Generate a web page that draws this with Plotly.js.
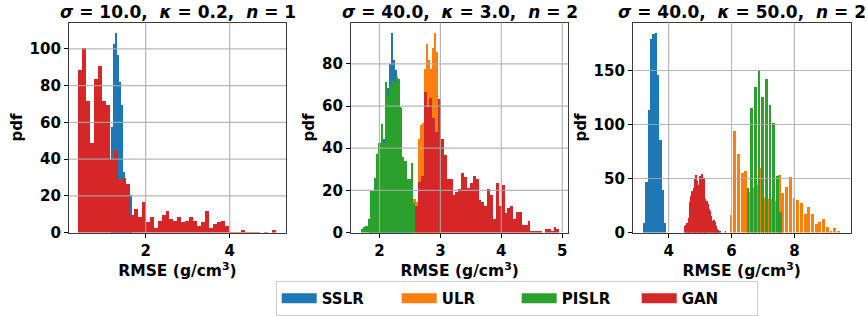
<!DOCTYPE html>
<html>
<head>
<meta charset="utf-8">
<script src="https://cdn.plot.ly/plotly-3.0.1.min.js"></script>
<style>html,body{margin:0;padding:0;background:#fff;}</style>
</head>
<body>
<div id="chart" style="width:867px;height:316px;"></div>
<script>
// ---------------- data ----------------
const seriesNames = ['SSLR', 'ULR', 'PISLR', 'GAN'];
const panelTitles = [
  '<i>σ</i> = 10.0,  <i>κ</i> = 0.2,  <i>n</i> = 1',
  '<i>σ</i> = 40.0,  <i>κ</i> = 3.0,  <i>n</i> = 2',
  '<i>σ</i> = 40.0,  <i>κ</i> = 50.0,  <i>n</i> = 2'
];
const xTitle = 'RMSE (g/cm<sup>3</sup>)';
const yTitle = 'pdf';

// Panel 1 (sigma=10, kappa=0.2, n=1): histogram bins (left edge of first bin, bin width, pdf values)
const p1_SSLR_start = 1.163, p1_SSLR_bin = 0.05;
const p1_SSLR = [57.7, 102.7, 108.8, 97.1, 82, 69.7, 33.2, 25, 24, 20.6];
const p1_GAN_start = 0.40, p1_GAN_bin = 0.0942;
const p1_GAN = [88.8, 100.7, 72.1, 48.8, 84, 91, 72, 69.9, 40.5, 44.9,
                29, 29.9, 26.7, 10, 13.1, 8.7, 16.9, 6, 8.7, 2.9,
                6.5, 9.8, 12, 7.8, 6.7, 8.7, 6.2, 6.5, 8.7, 6.5,
                3.8, 6, 12, 2.9, 5.1, 6.2, 6.5, 3.8, 0.5, 0.5,
                0.5, 1.6, 0.5, 0.5, 0.5, 0.5, 0, 0.5, 0, 1.6];

// Panel 2 (sigma=40, kappa=3, n=2)
const p2_SSLR_start = 1.82, p2_SSLR_bin = 0.033;
const p2_SSLR = [3.8, 5, 8, 12, 17.9, 25, 35, 44.8, 44, 68.7,
                 80, 94.7, 82, 77.5, 70, 59.7, 30, 22, 15, 8, 4];
const p2_ULR_start = 2.50, p2_ULR_bin = 0.0329;
const p2_ULR = [12, 16, 16, 14.8, 44.8, 51, 52, 77.7, 89.5, 82,
                77.7, 87.6, 94.7, 85.7, 60];
const p2_PISLR_start = 1.696, p2_PISLR_bin = 0.0357;
const p2_PISLR = [1.9, 2.8, 3.5, 6.6, 19.7, 19.7, 25.9, 37.4, 42.8, 51.7,
                  42.8, 71.7, 64.8, 69.5, 71.9, 71, 73.9, 73, 59.3, 36,
                  34.1, 25.8, 25.8, 33, 14];
const p2_GAN_start = 2.583, p2_GAN_bin = 0.0474;
const p2_GAN = [13, 24, 27, 67.1, 59.7, 64, 54.6, 47.8, 63.5, 44.8,
                36.8, 25.8, 25.8, 18.1, 19.2, 20.8, 28.6, 26.7, 21.5, 23.9,
                27, 25.8, 15.6, 14.8, 12.7, 20.8, 18.1, 6.6, 23.6, 12.9,
                22.8, 9.3, 11.8, 12.6, 6.6, 10, 10, 3.8, 3.8, 5.8,
                0.9, 0.9, 0.9, 0.9, 0, 1.9, 1.9, 0.9, 2.7, 1.9];

// Panel 3 (sigma=40, kappa=50, n=2)
const p3_SSLR_start = 3.188, p3_SSLR_bin = 0.0752;
const p3_SSLR = [9.2, 47.5, 114, 179.4, 184, 184.7, 146.3, 85.9, 39.6, 9.2];
const p3_ULR_start = 5.926, p3_ULR_bin = 0.1177;
const p3_ULR = [16.6, 94.2, 73, 55.4, 57.3, 38, 42, 44.4, 59.7, 32,
                31.4, 31, 30, 53.6, 37, 42.5, 51.7, 32.3, 30.5, 27.7,
                17.6, 24, 17.6, 8.3, 10.5, 12.9, 5.9, 2.2, 4.6, 1.2];
const p3_PISLR_start = 6.466, p3_PISLR_bin = 0.1164;
const p3_PISLR = [41.3, 115.5, 134.9, 150.6, 125.7, 142.3, 118.3, 101.6, 53, 19.4];
const p3_GAN_start = 4.518, p3_GAN_bin = 0.0266;
const p3_GAN = [6.1, 7, 9.2, 9, 13.5, 16, 28.8, 34, 39, 33,
                42, 50.3, 46, 53.4, 48.2, 44, 38.3, 50, 52.8, 52.1,
                54.5, 49.1, 51, 39.9, 31.3, 28.8, 29.5, 26.7, 22.1, 19.6,
                20.6, 16, 11.3, 10.4, 12, 9.8, 6.1, 6.7, 3.7, 3.1,
                2.1, 1.2, 0, 0, 0, 0, 0, 0, 1.2];

// tick values
const p1_xticks = [2, 4],        p1_yticks = [0, 20, 40, 60, 80, 100];
const p2_xticks = [2, 3, 4, 5],  p2_yticks = [0, 20, 40, 60, 80];
const p3_xticks = [4, 6, 8],     p3_yticks = [0, 50, 100, 150];

// ---------------- styling ----------------
const FONT = 'DejaVu Sans';
const colors = {SSLR: '#1f77b4', ULR: '#ff7f0e', PISLR: '#2ca02c', GAN: '#d62728'};
const W = 867, H = 316;

const panels = [
  {ax: '', series: {SSLR: [p1_SSLR_start, p1_SSLR_bin, p1_SSLR], GAN: [p1_GAN_start, p1_GAN_bin, p1_GAN]},
   xticks: p1_xticks, yticks: p1_yticks, px: [69, 286], xr: [0.1745, 5.341], yr: [0, 114.3], fill: {}},
  {ax: '2', series: {SSLR: [p2_SSLR_start, p2_SSLR_bin, p2_SSLR], ULR: [p2_ULR_start, p2_ULR_bin, p2_ULR],
                     PISLR: [p2_PISLR_start, p2_PISLR_bin, p2_PISLR], GAN: [p2_GAN_start, p2_GAN_bin, p2_GAN]},
   xticks: p2_xticks, yticks: p2_yticks, px: [351, 568.3], xr: [1.532, 5.10], yr: [0, 99.6], fill: {}},
  {ax: '3', series: {SSLR: [p3_SSLR_start, p3_SSLR_bin, p3_SSLR], ULR: [p3_ULR_start, p3_ULR_bin, p3_ULR],
                     PISLR: [p3_PISLR_start, p3_PISLR_bin, p3_PISLR], GAN: [p3_GAN_start, p3_GAN_bin, p3_GAN]},
   xticks: p3_xticks, yticks: p3_yticks, px: [633, 850.5], xr: [2.868, 9.783], yr: [0, 194.4],
   fill: {SSLR: 0.8, ULR: 0.78, PISLR: 0.8}}
];
const plotTop = 22.7, plotBottom = 234;

const traces = [];
const shapes = [];
const annotations = [];
const layout = {
  width: W, height: H,
  margin: {l: 0, r: 0, t: 0, b: 0},
  paper_bgcolor: '#fff', plot_bgcolor: '#fff',
  barmode: 'overlay', bargap: 0, bargroupgap: 0,
  showlegend: true, hovermode: false, dragmode: false,
  font: {family: FONT, size: 15, color: '#000'},
};

panels.forEach((p, i) => {
  const xa = 'x' + p.ax, ya = 'y' + p.ax;
  seriesNames.forEach(name => {
    const s = p.series[name];
    if (!s) return;
    const [start, bin, vals] = s;
    const frac = p.fill[name] || 1;
    traces.push({
      type: 'bar', name: name, showlegend: false,
      x: vals.map((_, k) => start + k * bin), y: vals,
      width: bin * frac, offset: bin * (1 - frac) / 2,
      xaxis: xa, yaxis: ya,
      marker: {color: colors[name], line: {width: 0}},
      hoverinfo: 'skip'
    });
  });
  const axisCommon = {
    showgrid: false, zeroline: false, showline: true, mirror: true,
    linecolor: '#3a3a3a', linewidth: 1.3,
    ticks: 'outside', ticklen: 4, tickwidth: 1.2, tickcolor: '#000',
    tickfont: {family: FONT, size: 15, color: '#000', weight: 'bold'},
    automargin: false, fixedrange: true
  };
  layout['xaxis' + p.ax] = Object.assign({}, axisCommon, {
    domain: [p.px[0] / W, p.px[1] / W], range: p.xr, anchor: ya,
    tickmode: 'array', tickvals: p.xticks, ticktext: p.xticks.map(String),
    title: {text: xTitle, font: {family: FONT, size: 15.5, color: '#000', weight: 'bold'}, standoff: 4}
  });
  layout['yaxis' + p.ax] = Object.assign({}, axisCommon, {
    domain: [1 - plotBottom / H, 1 - plotTop / H], range: p.yr, anchor: xa,
    tickmode: 'array', tickvals: p.yticks, ticktext: p.yticks.map(String),
    title: {text: yTitle, font: {family: FONT, size: 15, color: '#000', weight: 'bold'}, standoff: 3}
  });
  // grid lines drawn above the bars (as in the reference)
  p.xticks.forEach(v => shapes.push({type: 'line', layer: 'above', xref: xa, yref: ya + ' domain',
    x0: v, x1: v, y0: 0, y1: 1, line: {color: 'rgba(170,170,170,0.85)', width: 1.2}}));
  p.yticks.forEach(v => { if (v === 0) return; shapes.push({type: 'line', layer: 'above', xref: xa + ' domain', yref: ya,
    x0: 0, x1: 1, y0: v, y1: v, line: {color: 'rgba(170,170,170,0.85)', width: 1.2}}); });
  annotations.push({
    xref: xa + ' domain', yref: 'paper', x: 0.5, y: 1 - 12 / H, xanchor: 'center', yanchor: 'middle',
    text: panelTitles[i], showarrow: false,
    font: {family: FONT, size: 17, color: '#000', weight: 'bold'}
  });
});

// legend entries (legend-only line traces giving wide rectangular patches)
seriesNames.forEach(name => traces.push({
  type: 'scatter', mode: 'lines', name: name, x: [null], y: [null],
  line: {color: colors[name], width: 10}, showlegend: true, hoverinfo: 'skip', xaxis: 'x', yaxis: 'y'
}));

layout.shapes = shapes;
layout.annotations = annotations;
layout.legend = {
  orientation: 'h', x: 275.7 / W, xanchor: 'left', y: 1 - 283 / H, yanchor: 'top',
  font: {family: FONT, size: 15, color: '#000', weight: 'bold'},
  bordercolor: '#cccccc', borderwidth: 1, bgcolor: '#fff',
  entrywidth: 70, entrywidthmode: 'pixels', itemwidth: 35, traceorder: 'normal'
};

Plotly.newPlot('chart', traces, layout, {displayModeBar: false, scrollZoom: false, doubleClick: false});
</script>
</body>
</html>
